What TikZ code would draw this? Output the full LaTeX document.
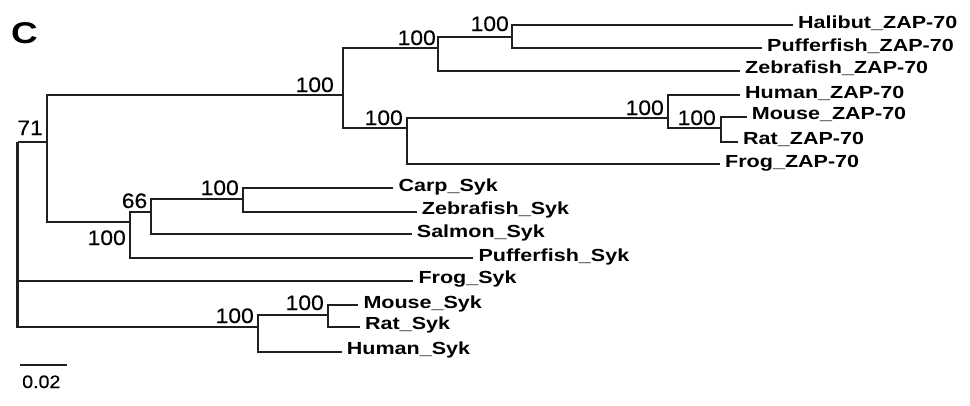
\documentclass[tikz,border=0pt]{standalone}
\usepackage{fontspec}
\newfontfamily\lblfont[FakeStretch=1.23]{Liberation Sans}
\newfontfamily\numfont[FakeStretch=1.09,FakeBold=0.3]{Liberation Sans}
\begin{document}
\begin{tikzpicture}[x=1pt,y=-1pt,
  br/.style={line width=2.2pt, draw=black!88},
  leaf/.style={anchor=west, inner xsep=5pt, inner ysep=0pt, text height=9pt, text depth=3pt,
    font=\lblfont\bfseries\fontsize{17.5}{17.5}\selectfont},
  bs/.style={anchor=base east, inner sep=0pt, font=\numfont\fontsize{21}{21}\selectfont}]
\useasboundingbox (0,0) rectangle (970,405);
% internal nodes
\coordinate (R) at (17.5,142);
\coordinate (A) at (46.7,142);
\coordinate (B) at (342.7,95);
\coordinate (C) at (438.3,48.3);
\coordinate (D) at (511.7,36.7);
\coordinate (E) at (407.3,128.3);
\coordinate (F) at (668.3,118.3);
\coordinate (G) at (720.7,128.3);
\coordinate (H) at (130,222.3);
\coordinate (I) at (150.7,212.3);
\coordinate (J) at (243.3,199.3);
\coordinate (K) at (258.3,326.7);
\coordinate (L) at (328.3,315);
% leaves
\node[leaf] (halibut) at (793,25) {Halibut\_ZAP-70};
\node[leaf] (pufzap) at (762,48.3) {Pufferfish\_ZAP-70};
\node[leaf] (zebzap) at (740,70.7) {Zebrafish\_ZAP-70};
\node[leaf] (humzap) at (740,95) {Human\_ZAP-70};
\node[leaf] (mouzap) at (746.7,116.7) {Mouse\_ZAP-70};
\node[leaf] (ratzap) at (738,141.7) {Rat\_ZAP-70};
\node[leaf] (frogzap) at (720,164) {Frog\_ZAP-70};
\node[leaf] (carp) at (393.3,188.3) {Carp\_Syk};
\node[leaf] (zebsyk) at (416.7,211.7) {Zebrafish\_Syk};
\node[leaf] (salmon) at (411.7,234) {Salmon\_Syk};
\node[leaf] (pufsyk) at (473.3,258.3) {Pufferfish\_Syk};
\node[leaf] (frogsyk) at (413.3,280.7) {Frog\_Syk};
\node[leaf] (mousyk) at (358.3,305) {Mouse\_Syk};
\node[leaf] (ratsyk) at (360,326.7) {Rat\_Syk};
\node[leaf] (humsyk) at (341.7,351.7) {Human\_Syk};
% branches
\draw[br] (R) |- (A);
\draw[br] (R) |- (frogsyk.west);
\draw[br] (R) |- (K);
\draw[br] (A) |- (B);
\draw[br] (A) |- (H);
\draw[br] (B) |- (C);
\draw[br] (B) |- (E);
\draw[br] (C) |- (D);
\draw[br] (C) |- (zebzap.west);
\draw[br] (D) |- (halibut.west);
\draw[br] (D) |- (pufzap.west);
\draw[br] (E) |- (F);
\draw[br] (E) |- (frogzap.west);
\draw[br] (F) |- (humzap.west);
\draw[br] (F) |- (G);
\draw[br] (G) |- (mouzap.west);
\draw[br] (G) |- (ratzap.west);
\draw[br] (H) |- (I);
\draw[br] (H) |- (pufsyk.west);
\draw[br] (I) |- (J);
\draw[br] (I) |- (salmon.west);
\draw[br] (J) |- (carp.west);
\draw[br] (J) |- (zebsyk.west);
\draw[br] (K) |- (L);
\draw[br] (K) |- (humsyk.west);
\draw[br] (L) |- (mousyk.west);
\draw[br] (L) |- (ratsyk.west);
% bootstrap values
\node[bs] (b71) at (43,135) {71};
\node[bs] (bB) at (334,92) {100};
\node[bs] (bC) at (436,45) {100};
\node[bs] (bD) at (509,31) {100};
\node[bs] (bE) at (403,125) {100};
\node[bs] (bF) at (664,115) {100};
\node[bs] (bG) at (716,125) {100};
\node[bs] (bJ) at (239,195) {100};
\node[bs] (b66) at (147.5,208) {66};
\node[bs] (bH) at (126,245) {100};
\node[bs] (bK) at (254,323) {100};
\node[bs] (bL) at (324,310) {100};
% scale bar
\coordinate (s1) at (20,365);
\coordinate (s2) at (66.7,365);
\draw[br] (s1) -- (s2);
\node[anchor=base west, inner sep=0pt, font=\numfont\fontsize{18}{18}\selectfont] (slabel) at (22,388) {0.02};
% panel label
\node[anchor=base west, inner sep=0pt, font=\lblfont\bfseries\fontsize{30}{30}\selectfont] (panel) at (11,43) {C};
\end{tikzpicture}
\end{document}
